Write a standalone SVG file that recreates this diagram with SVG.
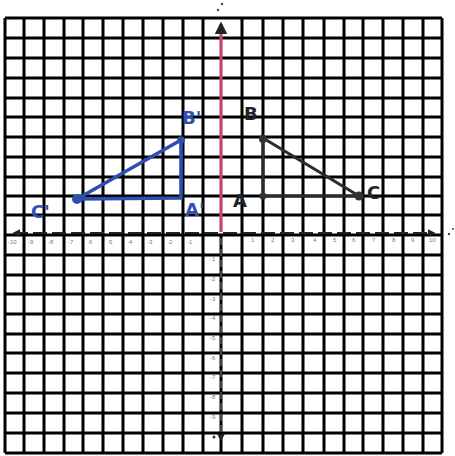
<svg xmlns="http://www.w3.org/2000/svg" width="455" height="456" viewBox="0 0 455 456">
<style>
.grid{stroke:#000;stroke-width:3;fill:none}
.tri{fill:none;stroke-linecap:round;stroke-linejoin:round}
.blk{stroke:#2b2b2b;stroke-width:3}
.blu{stroke:#2d4fae;stroke-width:3.6}
.lbl{font-family:"DejaVu Sans","Liberation Sans",sans-serif;font-size:18px;font-weight:bold}
.tick{font-family:"Liberation Sans",sans-serif;font-size:6px;fill:#777}
</style>
<defs>
<marker id="arr" viewBox="0 0 10 10" refX="8" refY="5" markerWidth="4" markerHeight="4" orient="auto-start-reverse">
<path d="M0,0 L10,5 L0,10 z" fill="#222"/>
</marker>
</defs>
<rect width="455" height="456" fill="#fff"/>
<g id="grid">
<path class="grid" d="M5,18V453 M24,18V453 M44,18V453 M64,18V453 M83,18V453 M103,18V453 M123,18V453 M143,18V453 M163,18V453 M183,18V453 M203,18V453 M221,235V453 M242,18V453 M263,18V453 M283,18V453 M303,18V453 M324,18V453 M344,18V453 M363,18V453 M383,18V453 M403,18V453 M423,18V453 M442,18V453"/>
<path class="grid" d="M5,18H442 M5,38H442 M5,58H442 M5,78H442 M5,98H442 M5,117H442 M5,137H442 M5,157H442 M5,177H442 M5,196H442 M5,215H442 M5,235H442 M5,255H442 M5,275H442 M5,294H442 M5,314H442 M5,334H442 M5,353H442 M5,373H442 M5,393H442 M5,413H442 M5,433H442 M5,453H442"/>
</g>
<g id="axes">
<line x1="221" y1="232" x2="221" y2="24" stroke="#c4466f" stroke-width="3.2" marker-end="url(#arr)"/>
<line x1="221" y1="238" x2="221" y2="440" stroke="#444" stroke-width="2" stroke-dasharray="7 4" marker-end="url(#arr)"/>
<line x1="14" y1="233" x2="434" y2="233" stroke="#222" stroke-width="2" stroke-dasharray="14 5" marker-start="url(#arr)" marker-end="url(#arr)"/>
<circle cx="222" cy="4" r="1.2" fill="#444"/>
<circle cx="218" cy="10" r="1.2" fill="#444"/>
<circle cx="449" cy="234" r="1.2" fill="#444"/>
<circle cx="453" cy="229" r="1" fill="#444"/>
<circle cx="214" cy="437" r="1.5" fill="#333"/>
</g>
<g id="ticks">
<text class="tick" x="8" y="244">-10</text><text class="tick" x="28" y="244">-9</text><text class="tick" x="48" y="244">-8</text><text class="tick" x="68" y="244">-7</text><text class="tick" x="87" y="244">-6</text><text class="tick" x="107" y="244">-5</text><text class="tick" x="127" y="244">-4</text><text class="tick" x="147" y="244">-3</text><text class="tick" x="167" y="244">-2</text><text class="tick" x="187" y="244">-1</text>
<text class="tick" x="251" y="242">1</text><text class="tick" x="271" y="242">2</text><text class="tick" x="291" y="242">3</text><text class="tick" x="313" y="242">4</text><text class="tick" x="333" y="242">5</text><text class="tick" x="352" y="242">6</text><text class="tick" x="372" y="242">7</text><text class="tick" x="392" y="242">8</text><text class="tick" x="411" y="242">9</text><text class="tick" x="429" y="242">10</text>
<text class="tick" x="210" y="261">-1</text><text class="tick" x="210" y="281">-2</text><text class="tick" x="210" y="301">-3</text><text class="tick" x="210" y="320">-4</text><text class="tick" x="210" y="340">-5</text><text class="tick" x="210" y="360">-6</text><text class="tick" x="210" y="379">-7</text><text class="tick" x="210" y="399">-8</text><text class="tick" x="210" y="419">-9</text>
</g>
<g id="triangle-ABC">
<path class="tri blk" d="M263,138 L263,196 L359,196 Z"/>
<circle cx="263" cy="139" r="4" fill="#333"/>
<circle cx="263" cy="196" r="3.5" fill="#333"/>
<circle cx="359" cy="196" r="4.5" fill="#333"/>
<text class="lbl" x="244" y="120" fill="#222">B</text>
<text class="lbl" x="233" y="207" fill="#222">A</text>
<text class="lbl" x="367" y="199" fill="#222">C</text>
</g>
<g id="triangle-A1B1C1">
<path class="tri blu" d="M181,140 L181,198 L77,199 Z"/>
<circle cx="181" cy="140" r="3.8" fill="#2d4fae"/>
<circle cx="77" cy="199" r="5" fill="#2d4fae"/>
<text class="lbl" x="182" y="124" fill="#2d4fae">B'</text>
<text class="lbl" x="185" y="216" fill="#2d4fae">A'</text>
<text class="lbl" x="31" y="218" fill="#2d4fae">C'</text>
</g>
</svg>
